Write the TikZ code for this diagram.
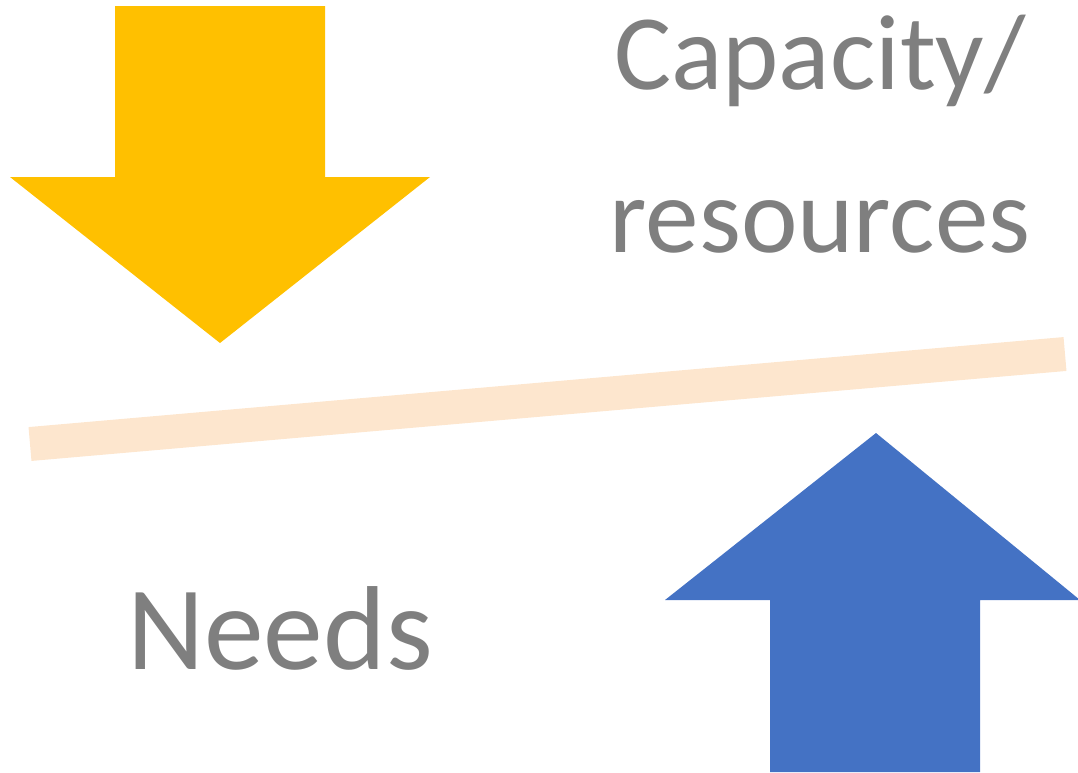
\documentclass[tikz,border=0pt]{standalone}
\usepackage{fontspec}
\setmainfont{Carlito}
\definecolor{arrowyellow}{HTML}{FFC000}
\definecolor{arrowblue}{HTML}{4472C4}
\definecolor{beam}{HTML}{FDE6CE}
\definecolor{txtgray}{HTML}{7F7F7F}
\begin{document}
\begin{tikzpicture}[x=0.02cm,y=-0.02cm,
  lbl/.style={anchor=base,inner sep=0pt,text=txtgray,font=\fontsize{61}{73}\selectfont},
  biglbl/.style={lbl,font=\fontsize{68}{82}\selectfont}]
\useasboundingbox (0,0) rectangle (1078,772);
\fill[arrowyellow] (115,6) -- (325,6) -- (325,177) -- (430,177) -- (220,343) -- (10,177) -- (115,177) -- cycle;
\fill[arrowblue] (770,772) -- (980,772) -- (980,600) -- (1080,600) -- (876,433) -- (665,600) -- (770,600) -- cycle;
\coordinate (bl) at (30,444);
\coordinate (br) at (1065,354);
\draw[beam,line width=0.68cm] (bl) -- (br);
\node[lbl] (cap) at (820,89) {Capacity/};
\node[lbl] (res) at (820,252) {resources};
\node[biglbl] (needs) at (280,669) {Needs};
\end{tikzpicture}
\end{document}
